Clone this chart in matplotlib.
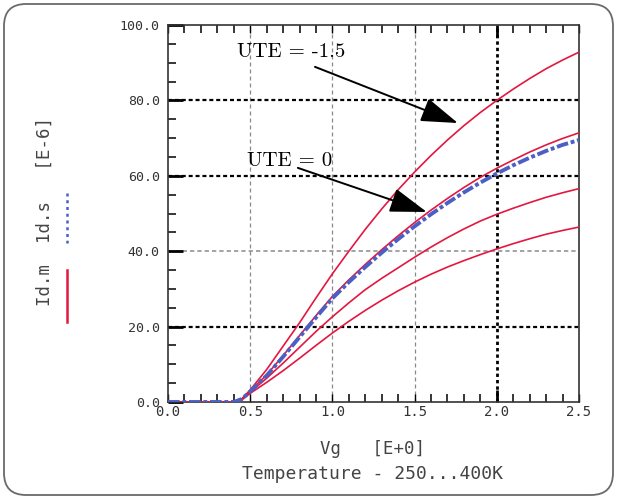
import matplotlib
matplotlib.use("Agg")
import matplotlib.pyplot as plt
from matplotlib.patches import FancyBboxPatch
from matplotlib.lines import Line2D

# ---- data ----
vg = [0.0, 0.1, 0.2, 0.3, 0.4, 0.45, 0.5, 0.6, 0.7, 0.8, 0.9, 1.0, 1.1, 1.2, 1.3,
      1.4, 1.5, 1.6, 1.7, 1.8, 1.9, 2.0, 2.1, 2.2, 2.3, 2.4, 2.5]
id_m_a = [0, 0, 0, 0, 0, 0.9, 3.2, 8.6, 14.8, 21.0, 27.6, 34.0, 40.0, 45.8, 51.2,
          56.3, 61.0, 65.4, 69.5, 73.3, 76.8, 80.0, 83.0, 85.8, 88.4, 90.7, 92.8]
id_m_b = [0, 0, 0, 0, 0, 0.8, 2.9, 7.2, 12.3, 17.6, 22.9, 28.0, 32.4, 36.5, 40.4,
          44.1, 47.6, 50.9, 54.0, 56.9, 59.6, 62.0, 64.2, 66.3, 68.2, 69.9, 71.4]
id_m_c = [0, 0, 0, 0, 0, 0.7, 2.6, 6.3, 10.3, 14.5, 18.7, 22.6, 26.3, 29.8, 32.8,
          35.6, 38.4, 41.1, 43.6, 45.9, 48.0, 49.8, 51.4, 52.9, 54.3, 55.5, 56.6]
id_m_d = [0, 0, 0, 0, 0, 0.6, 2.3, 5.2, 8.3, 11.6, 15.0, 18.3, 21.4, 24.3, 27.0,
          29.5, 31.8, 33.9, 35.8, 37.5, 39.1, 40.6, 42.0, 43.3, 44.5, 45.5, 46.4]
id_s = [0, 0, 0, 0, 0, 0.8, 2.8, 7.0, 12.0, 17.2, 22.4, 27.5, 31.8, 35.8, 39.6,
        43.2, 46.6, 49.8, 52.8, 55.6, 58.2, 60.6, 62.8, 64.8, 66.6, 68.2, 69.5]

xticks = [0.0, 0.5, 1.0, 1.5, 2.0, 2.5]
xticklabels = ["0.0", "0.5", "1.0", "1.5", "2.0", "2.5"]
yticks = [0, 20, 40, 60, 80, 100]
yticklabels = ["0.0", "20.0", "40.0", "60.0", "80.0", "100.0"]

RED = "#e3173f"
BLUE = "#4b5fc4"
MONO = "DejaVu Sans Mono"
SERIF = ["cmr10", "DejaVu Serif"]

fig = plt.figure(figsize=(6.17, 4.99), dpi=100)
ax = fig.add_axes([168/617, 1-402/499, (579-168)/617, (402-25)/499])

# grid lines
for xv in [0.5, 1.0, 1.5]:
    ax.axvline(xv, color="#8a8a8a", lw=0.9, dashes=(3.2, 2.4), zorder=1)
ax.axvline(2.0, color="black", lw=2.0, dashes=(1.2, 1.1), zorder=1)
for yv in [20, 60, 80]:
    ax.axhline(yv, color="black", lw=1.6, dashes=(1.8, 1.3), zorder=1)
ax.axhline(40, color="#8a8a8a", lw=1.1, dashes=(2.8, 2.0), zorder=1)

# curves
for ys in [id_m_a, id_m_b, id_m_c, id_m_d]:
    ax.plot(vg, ys, color=RED, lw=1.2, zorder=3)
ax.plot(vg, id_s, color=BLUE, lw=2.8, dashes=(3.0, 0.7, 1.0, 0.7), zorder=4)

ax.set_xlim(0, 2.5)
ax.set_ylim(0, 100)
ax.set_xticks(xticks)
ax.set_xticklabels(xticklabels, family=MONO, fontsize=10, color="#333333")
ax.set_yticks(yticks)
ax.set_yticklabels(yticklabels, family=MONO, fontsize=9.5, color="#333333")
ax.set_xticks([i / 10 for i in range(26)], minor=True)
ax.set_yticks(list(range(0, 101, 5)), minor=True)

ax.tick_params(axis="x", which="major", direction="in", top=True, bottom=True,
               length=6, width=1, pad=2)
ax.tick_params(axis="x", which="minor", direction="in", top=True, bottom=True,
               length=6, width=1.1)
ax.tick_params(axis="y", which="major", direction="in", left=True, right=False,
               length=11, width=2, pad=6)
ax.tick_params(axis="y", which="minor", direction="in", left=True, right=False,
               length=5.5, width=1.1)
t20 = ax.xaxis.get_major_ticks()[4]
for tl in (t20.tick1line, t20.tick2line):
    tl.set_markersize(8.5)
    tl.set_markeredgewidth(2.0)

for s in ax.spines.values():
    s.set_linewidth(1.2)
    s.set_color("#333333")

# annotations
ax.text(0.419, 91.5, "UTE = -1.5", family=SERIF, fontsize=15, ha="left",
        va="baseline", zorder=6)
ax.text(0.48, 62.6, "UTE = 0", family=SERIF, fontsize=15, ha="left",
        va="baseline", zorder=6)
arrow = dict(arrowstyle="-|>,head_length=1.15,head_width=0.38", color="black",
             lw=1.4, shrinkA=0, shrinkB=0, mutation_scale=20)
ax.annotate("", xy=(1.763, 74.0), xytext=(0.894, 88.9), arrowprops=arrow, zorder=6)
ax.annotate("", xy=(1.574, 50.4), xytext=(0.790, 62.1), arrowprops=arrow, zorder=6)

# axis labels
fig.text(45/617, 1-212/499, "Id.m  1d.s   [E-6]", rotation=90, family=MONO,
         fontsize=12.5, color="#444444", ha="center", va="center")
fig.text(373/617, 1-449/499, "Vg   [E+0]", family=MONO, fontsize=12.5,
         color="#444444", ha="center", va="center")
fig.text(373/617, 1-474/499, "Temperature - 250...400K", family=MONO,
         fontsize=13, color="#444444", ha="center", va="center")

# legend samples beside the y label
fig.add_artist(Line2D([67/617, 67/617], [1-270/499, 1-322/499], color=RED,
                      lw=1.8, transform=fig.transFigure))
fig.add_artist(Line2D([67/617, 67/617], [1-193/499, 1-243/499], color=BLUE,
                      lw=1.8, dashes=(1.2, 1.5), transform=fig.transFigure))

# rounded frame
frame = FancyBboxPatch((0.04, 0.04), 6.09, 4.91,
                       boxstyle="round,pad=0,rounding_size=0.22",
                       transform=fig.dpi_scale_trans, fill=False,
                       ec="#6a6a6a", lw=1.3)
fig.add_artist(frame)

fig.savefig("out.png", dpi=100)
